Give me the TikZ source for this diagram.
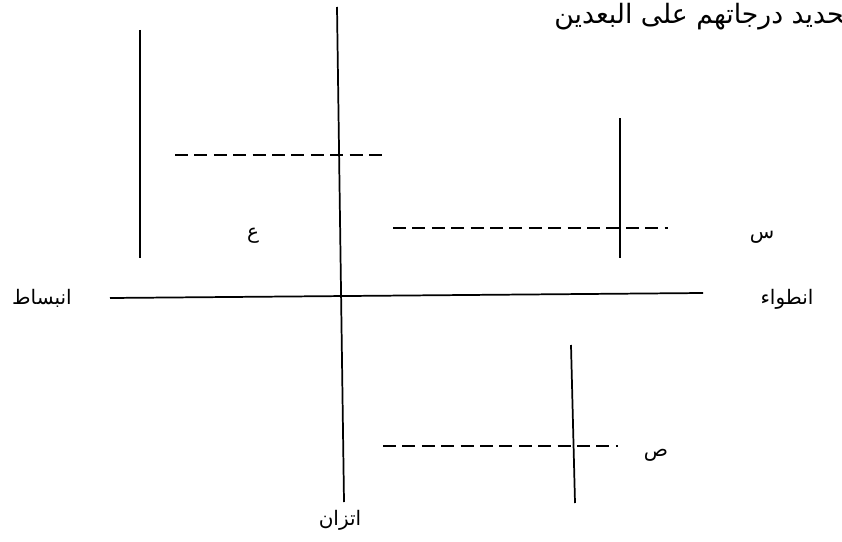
\documentclass[tikz,border=0pt]{standalone}
\usepackage{fontspec}
\newfontfamily\arabicfont[Script=Arabic]{DejaVu Sans}
\TeXXeTstate=1
\begin{document}
\begin{tikzpicture}[x=0.75pt,y=-0.75pt,
  solidline/.style={line width=1.3pt},
  dashline/.style={line width=1.1pt, dash pattern=on 9.75pt off 4.8pt},
  lbl/.style={font=\arabicfont\fontsize{15}{18}\selectfont, inner sep=0pt},
  ttl/.style={font=\arabicfont\fontsize{20}{24}\selectfont, inner sep=0pt}]
\useasboundingbox (0,0) rectangle (842,542);
\clip (0,0) rectangle (842,542);
% coordinates
\coordinate (leftTop) at (140,30);
\coordinate (leftBot) at (140,258);
\coordinate (cTop) at (337,7);
\coordinate (cBot) at (344,502);
\coordinate (hL) at (110,298);
\coordinate (hR) at (703,293);
\coordinate (rTop) at (620,118);
\coordinate (rBot) at (620,258);
\coordinate (lrTop) at (571,345);
\coordinate (lrBot) at (575,503);
\coordinate (d1a) at (175,155);
\coordinate (d1b) at (388,155);
\coordinate (d2a) at (393,228);
\coordinate (d2b) at (668,228);
\coordinate (d3a) at (383,446);
\coordinate (d3b) at (618,446);
% lines
\draw[solidline] (leftTop) -- (leftBot);
\draw[solidline] (cTop) -- (cBot);
\draw[solidline] (hL) -- (hR);
\draw[solidline] (rTop) -- (rBot);
\draw[solidline] (lrTop) -- (lrBot);
\draw[dashline] (d1a) -- (d1b);
\draw[dashline] (d2a) -- (d2b);
\draw[dashline] (d3a) -- (d3b);
% labels
\node[ttl, anchor=east] (title) at (852,17) {\beginR تحديد درجاتهم على البعدين\endR};
\node[lbl] (ein) at (253,236) {\beginR ع\endR};
\node[lbl] (sin) at (762,237) {\beginR س\endR};
\node[lbl] (sad) at (656,455) {\beginR ص\endR};
\node[lbl] (inbisat) at (42,298) {\beginR انبساط\endR};
\node[lbl] (intiwa) at (787,299) {\beginR انطواء\endR};
\node[lbl] (ittizan) at (340,520) {\beginR اتزان\endR};
\end{tikzpicture}
\end{document}
